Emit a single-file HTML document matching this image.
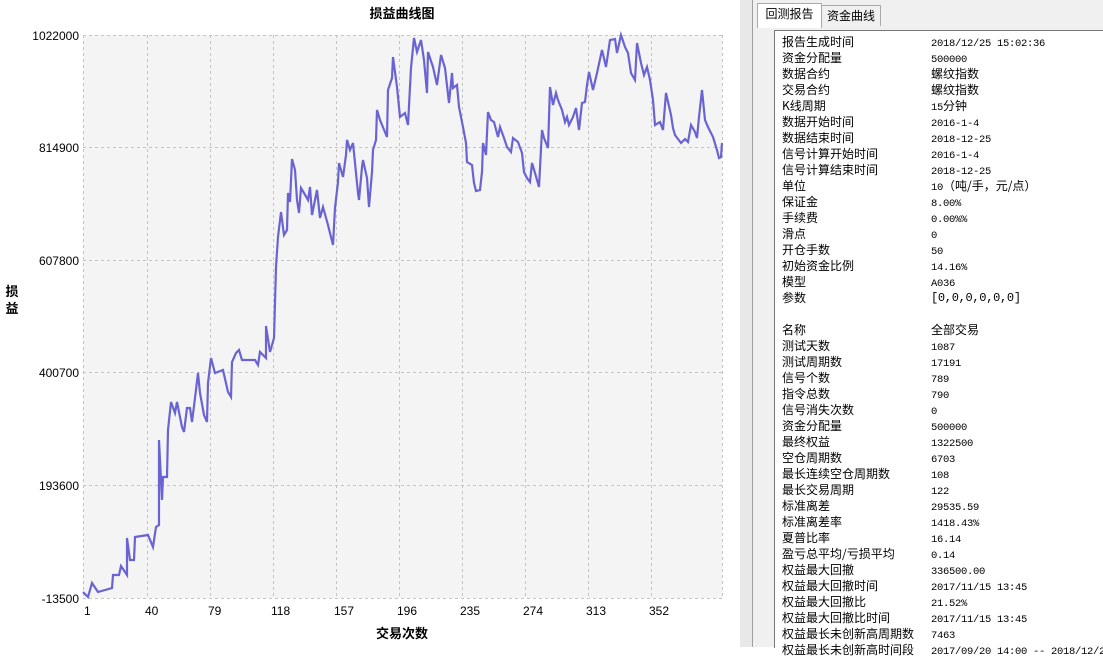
<!DOCTYPE html>
<html><head><meta charset="utf-8"><style>
body{margin:0;width:1103px;height:647px;position:relative;overflow:hidden;background:#fff;font-family:"Liberation Sans","Noto Sans CJK SC",sans-serif}
#rp{position:absolute;left:752px;top:0;width:351px;height:647px;background:#f0f0f0;border-left:1px solid #a0a0a0}
#strip{position:absolute;left:740px;top:0;width:12px;height:647px;background:#e8e8e8}
.tab{position:absolute;font:12px "Noto Sans CJK SC",sans-serif;color:#000;line-height:20px;text-align:center}
#box{position:absolute;left:774px;top:30px;width:329px;height:617px;background:#fff;border-left:1px solid #777;border-top:1px solid #777}
.r{position:absolute;left:782px;font:12px/16px "Noto Sans CJK SC",sans-serif;color:#000;white-space:nowrap}
.v{position:absolute;left:931px;font:12px/16px "Noto Sans CJK SC",sans-serif;color:#000;white-space:nowrap}
.m{font-family:"Liberation Mono",monospace;font-size:10.5px;letter-spacing:-0.3px}
div.m{padding-top:2px}
</style></head><body>
<svg width="740" height="647" style="position:absolute;left:0;top:0">
<rect x="83" y="35" width="639" height="563" fill="#f4f4f4"/>
<g stroke="#c4c4c4" stroke-dasharray="3,3" stroke-width="1">
<line x1="83" y1="35.5" x2="722" y2="35.5"/><line x1="83" y1="147.5" x2="722" y2="147.5"/><line x1="83" y1="260.5" x2="722" y2="260.5"/><line x1="83" y1="372.5" x2="722" y2="372.5"/><line x1="83" y1="485.5" x2="722" y2="485.5"/><line x1="83" y1="598.5" x2="722" y2="598.5"/>
<line x1="83.5" y1="35" x2="83.5" y2="598"/><line x1="147.5" y1="35" x2="147.5" y2="598"/><line x1="210.5" y1="35" x2="210.5" y2="598"/><line x1="273.5" y1="35" x2="273.5" y2="598"/><line x1="336.5" y1="35" x2="336.5" y2="598"/><line x1="399.5" y1="35" x2="399.5" y2="598"/><line x1="462.5" y1="35" x2="462.5" y2="598"/><line x1="525.5" y1="35" x2="525.5" y2="598"/><line x1="588.5" y1="35" x2="588.5" y2="598"/><line x1="651.5" y1="35" x2="651.5" y2="598"/><line x1="722.5" y1="35" x2="722.5" y2="598"/>
</g>
<polyline fill="none" stroke="#6a64d2" stroke-width="2.2" stroke-linejoin="miter" points="83,592 88,597 92,583 98,592 112,588 113,575 119,575 121,566 127,575 127,538 130,560 134,560 135,537 148,535 153,547 156,527 159,525 159,440 162,500 163,477 167,477 168,430 171,402 175,413 177,402 182,427 184,432 187,408 190,408 192,422 195,398 198,373 200,393 204,415 207,422 208,383 211,358 215,373 223,370 228,392 231,397 232,362 236,353 239,350 242,360 255,360 258,365 260,352 266,358 266,326 270,352 274,338 276,267 278,237 281,212 284,235 287,230 288,193 290,202 292,159 295,170 297,200 299,213 301,188 304,193 308,200 310,187 312,215 317,190 320,218 323,207 328,225 333,245 335,208 338,182 339,163 343,177 346,155 347,140 350,150 353,143 356,173 358,193 359,200 362,167 363,160 367,178 369,207 372,172 373,150 376,140 377,110 380,120 387,137 388,90 392,78 393,57 397,87 400,117 405,113 408,125 411,68 414,38 417,52 421,40 424,60 427,93 428,52 433,67 437,85 441,55 445,68 449,103 452,73 453,88 457,85 459,107 463,127 466,143 467,162 472,165 474,183 476,191 480,190 482,172 483,143 486,155 488,112 491,120 494,122 498,137 500,127 504,138 507,147 511,152 513,138 518,142 522,153 524,172 527,178 530,182 532,163 535,173 539,187 542,130 544,138 548,148 550,87 553,105 556,93 558,100 562,110 565,122 567,117 569,125 573,117 576,108 579,130 582,103 585,102 587,85 589,72 593,90 597,73 602,50 606,67 610,40 615,39 617,53 621,35 625,47 628,53 631,73 635,80 637,43 641,63 644,75 647,67 650,80 653,100 655,125 660,122 663,130 666,93 671,115 673,128 675,135 681,143 685,139 688,142 691,125 695,132 697,138 699,117 702,90 705,120 708,127 713,137 717,150 719,158 721,157 722,143"/>
<g font-family="Liberation Sans,sans-serif" font-size="12" fill="#000" text-anchor="end">
<text x="79" y="40">1022000</text><text x="79" y="152">814900</text><text x="79" y="265">607800</text><text x="79" y="377">400700</text><text x="79" y="490">193600</text><text x="79" y="603">-13500</text>
</g>
<g font-family="Liberation Sans,sans-serif" font-size="12" fill="#000">
<text x="84" y="615">1</text><text x="145" y="615">40</text><text x="208" y="615">79</text><text x="271" y="615">118</text><text x="334" y="615">157</text><text x="397" y="615">196</text><text x="460" y="615">235</text><text x="523" y="615">274</text><text x="586" y="615">313</text><text x="649" y="615">352</text>
</g>
<text x="402" y="18" font-family="Noto Sans CJK SC,sans-serif" font-size="13" font-weight="bold" text-anchor="middle">损益曲线图</text>
<text x="402" y="638" font-family="Noto Sans CJK SC,sans-serif" font-size="13" font-weight="bold" text-anchor="middle">交易次数</text>
<text x="12" y="296" font-family="Noto Sans CJK SC,sans-serif" font-size="13" font-weight="bold" text-anchor="middle">损</text>
<text x="12" y="313" font-family="Noto Sans CJK SC,sans-serif" font-size="13" font-weight="bold" text-anchor="middle">益</text>
</svg>
<div id="strip"></div>
<div id="rp"></div>
<div class="tab" style="left:757px;top:3px;width:63px;height:24px;background:#fff;border:1px solid #aaa;border-bottom:none">回测报告</div>
<div class="tab" style="left:821px;top:5px;width:58px;height:20px;background:#f0f0f0;border:1px solid #aaa;border-bottom:none">资金曲线</div>
<div id="box"></div>
<div class="r" style="top:34px">报告生成时间</div><div class="v m" style="top:34px">2018/12/25 15:02:36</div>
<div class="r" style="top:50px">资金分配量</div><div class="v m" style="top:50px">500000</div>
<div class="r" style="top:66px">数据合约</div><div class="v" style="top:66px">螺纹指数</div>
<div class="r" style="top:82px">交易合约</div><div class="v" style="top:82px">螺纹指数</div>
<div class="r" style="top:98px">K线周期</div><div class="v" style="top:98px"><span class="m">15</span>分钟</div>
<div class="r" style="top:114px">数据开始时间</div><div class="v m" style="top:114px">2016-1-4</div>
<div class="r" style="top:130px">数据结束时间</div><div class="v m" style="top:130px">2018-12-25</div>
<div class="r" style="top:146px">信号计算开始时间</div><div class="v m" style="top:146px">2016-1-4</div>
<div class="r" style="top:162px">信号计算结束时间</div><div class="v m" style="top:162px">2018-12-25</div>
<div class="r" style="top:178px">单位</div><div class="v" style="top:178px"><span class="m">10</span>（吨/手，元/点）</div>
<div class="r" style="top:194px">保证金</div><div class="v m" style="top:194px">8.00%</div>
<div class="r" style="top:210px">手续费</div><div class="v m" style="top:210px">0.00%%</div>
<div class="r" style="top:226px">滑点</div><div class="v m" style="top:226px">0</div>
<div class="r" style="top:242px">开仓手数</div><div class="v m" style="top:242px">50</div>
<div class="r" style="top:258px">初始资金比例</div><div class="v m" style="top:258px">14.16%</div>
<div class="r" style="top:274px">模型</div><div class="v m" style="top:274px">A036</div>
<div class="r" style="top:290px">参数</div><div class="v m" style="top:290px;font-size:12px;padding-top:0">[0,0,0,0,0,0]</div>
<div class="r" style="top:322px">名称</div><div class="v" style="top:322px">全部交易</div>
<div class="r" style="top:338px">测试天数</div><div class="v m" style="top:338px">1087</div>
<div class="r" style="top:354px">测试周期数</div><div class="v m" style="top:354px">17191</div>
<div class="r" style="top:370px">信号个数</div><div class="v m" style="top:370px">789</div>
<div class="r" style="top:386px">指令总数</div><div class="v m" style="top:386px">790</div>
<div class="r" style="top:402px">信号消失次数</div><div class="v m" style="top:402px">0</div>
<div class="r" style="top:418px">资金分配量</div><div class="v m" style="top:418px">500000</div>
<div class="r" style="top:434px">最终权益</div><div class="v m" style="top:434px">1322500</div>
<div class="r" style="top:450px">空仓周期数</div><div class="v m" style="top:450px">6703</div>
<div class="r" style="top:466px">最长连续空仓周期数</div><div class="v m" style="top:466px">108</div>
<div class="r" style="top:482px">最长交易周期</div><div class="v m" style="top:482px">122</div>
<div class="r" style="top:498px">标准离差</div><div class="v m" style="top:498px">29535.59</div>
<div class="r" style="top:514px">标准离差率</div><div class="v m" style="top:514px">1418.43%</div>
<div class="r" style="top:530px">夏普比率</div><div class="v m" style="top:530px">16.14</div>
<div class="r" style="top:546px">盈亏总平均/亏损平均</div><div class="v m" style="top:546px">0.14</div>
<div class="r" style="top:562px">权益最大回撤</div><div class="v m" style="top:562px">336500.00</div>
<div class="r" style="top:578px">权益最大回撤时间</div><div class="v m" style="top:578px">2017/11/15 13:45</div>
<div class="r" style="top:594px">权益最大回撤比</div><div class="v m" style="top:594px">21.52%</div>
<div class="r" style="top:610px">权益最大回撤比时间</div><div class="v m" style="top:610px">2017/11/15 13:45</div>
<div class="r" style="top:626px">权益最长未创新高周期数</div><div class="v m" style="top:626px">7463</div>
<div class="r" style="top:642px">权益最长未创新高时间段</div><div class="v m" style="top:642px">2017/09/20 14:00 -- 2018/12/25</div>
</body></html>
